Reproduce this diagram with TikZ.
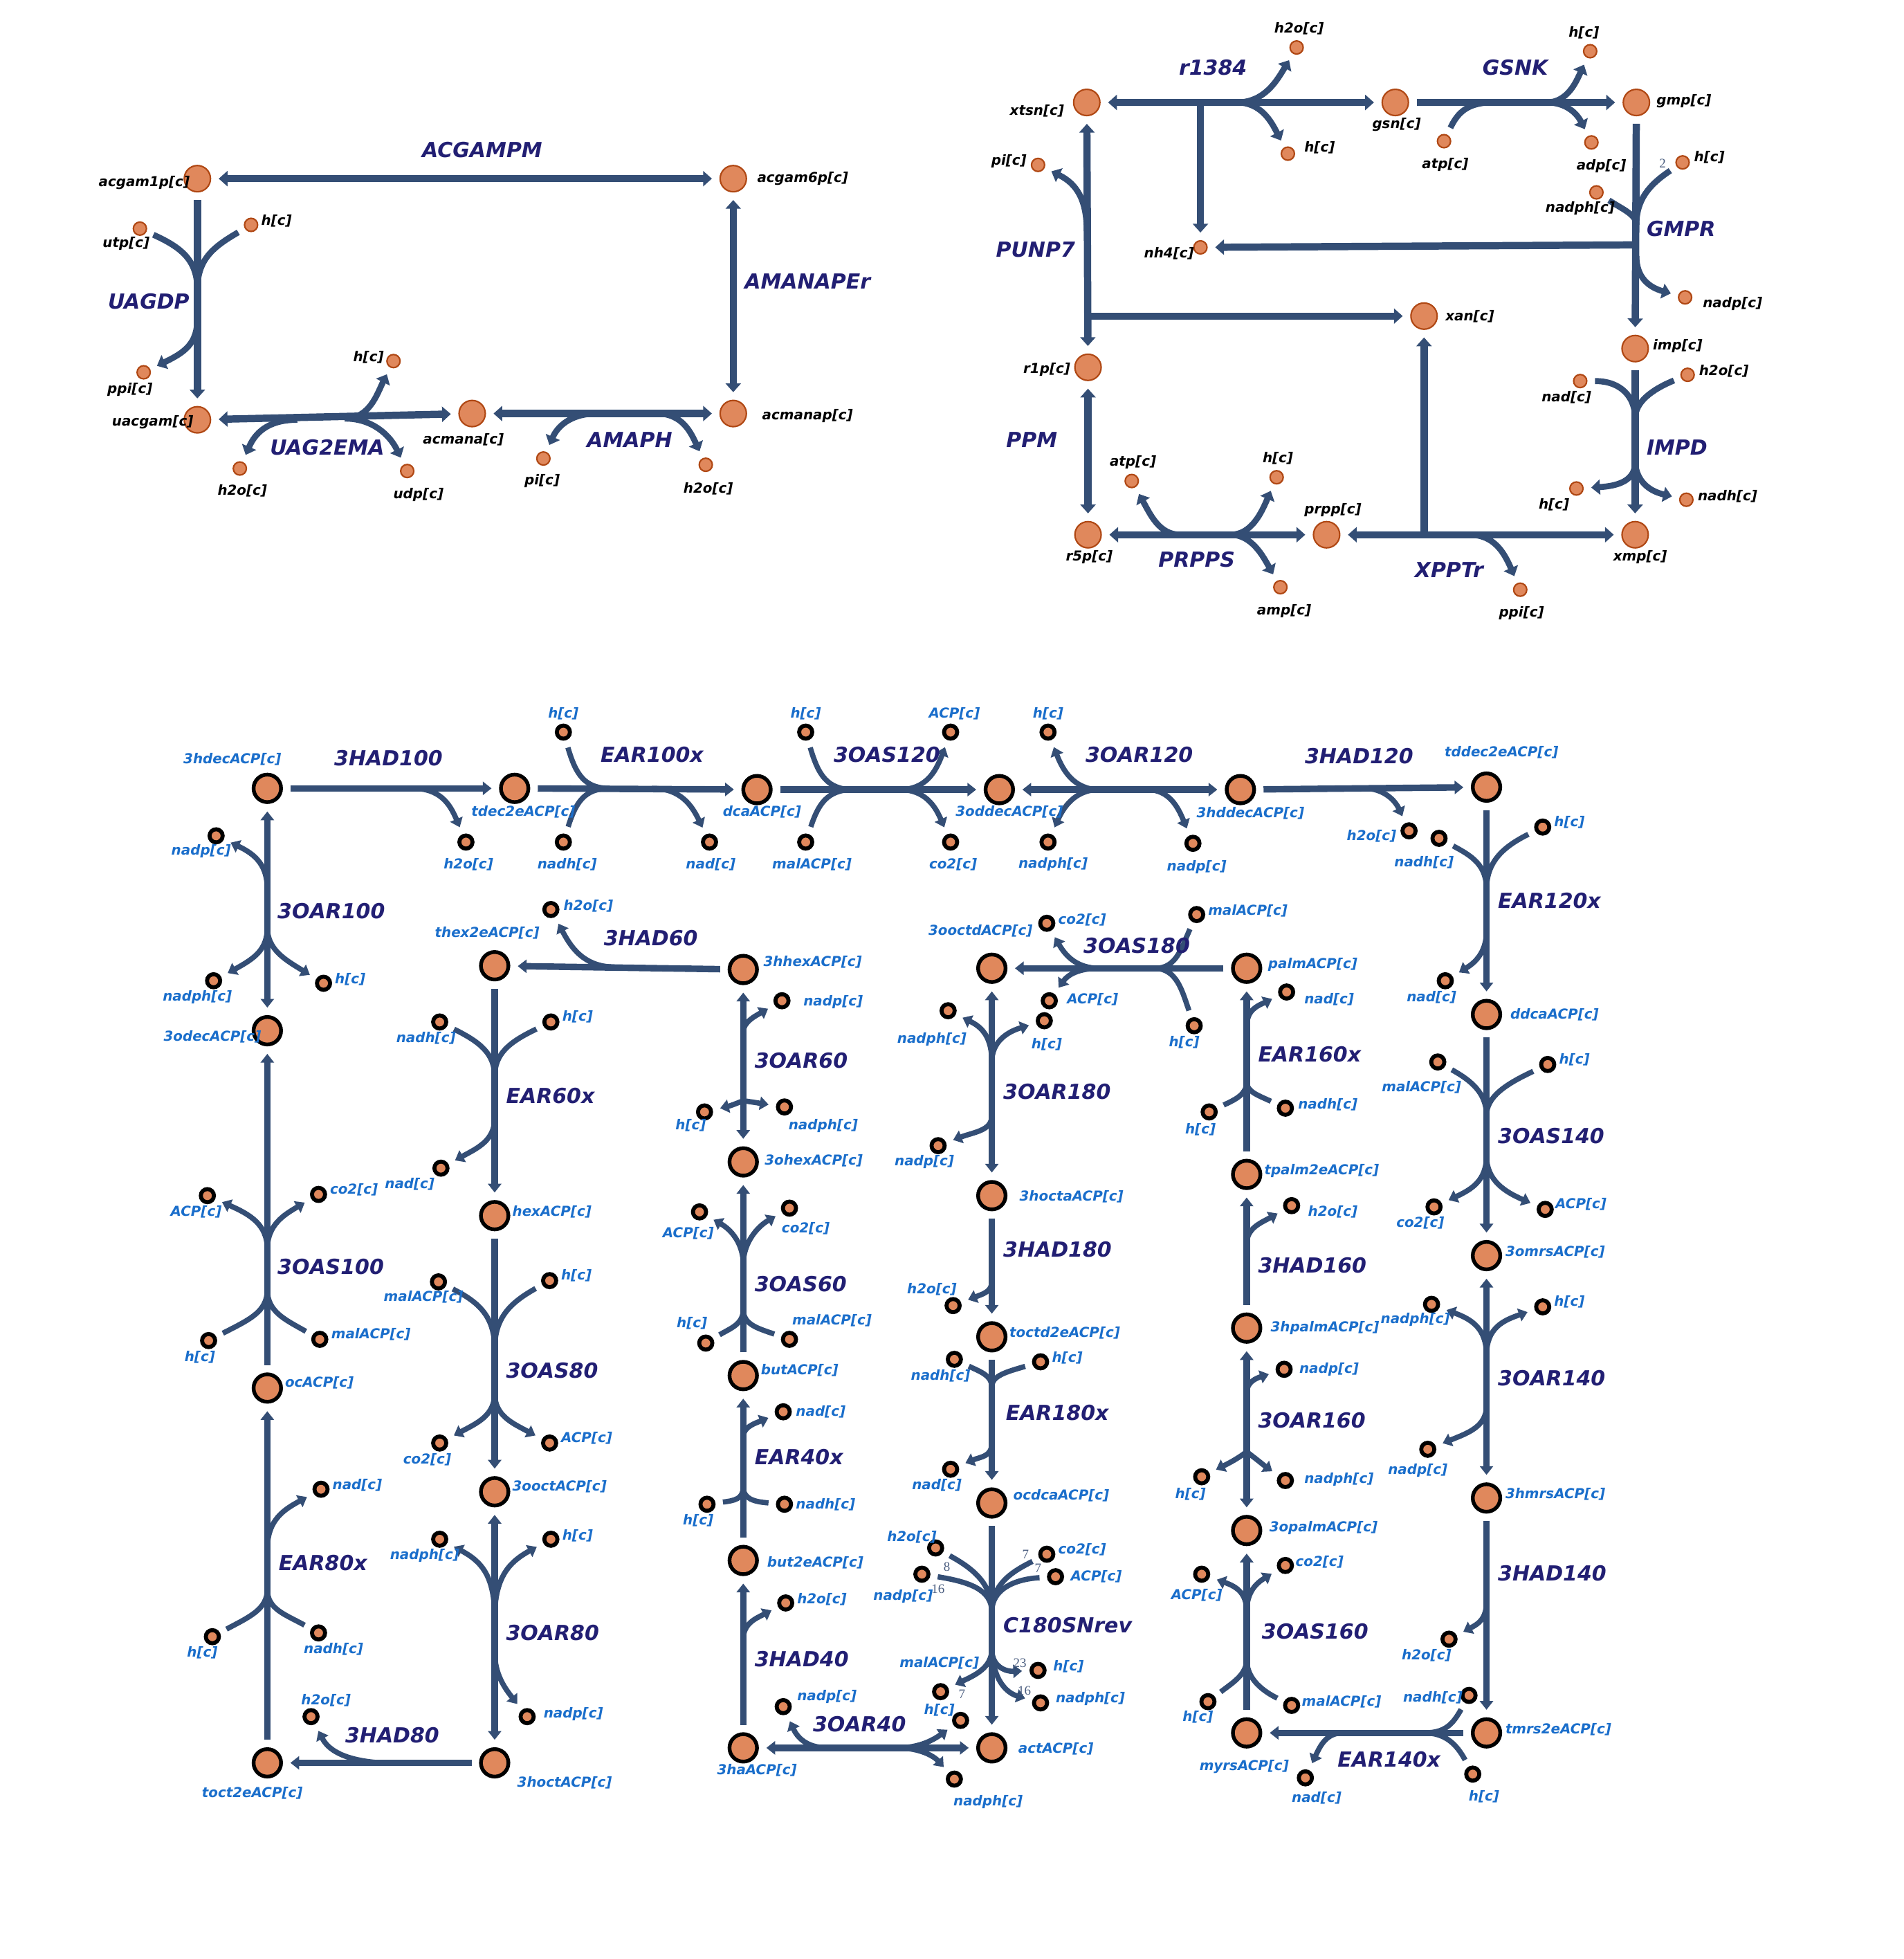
\documentclass[tikz,border=0pt]{standalone}
\usepackage{fontspec}
\setmainfont{DejaVu Sans}
\newfontfamily\numfont{Liberation Serif}
\usetikzlibrary{arrows.meta}
\definecolor{edge}{HTML}{344E75}
\definecolor{metfill}{HTML}{E0885C}
\definecolor{metbord}{HTML}{B04814}
\definecolor{rxn}{HTML}{221F73}
\definecolor{mlab}{HTML}{1A6ECB}
\definecolor{stoi}{HTML}{4B5E80}
\pgfdeclarelayer{bg}
\pgfsetlayers{bg,main}
\tikzset{
  tBig/.style={circle,draw=metbord,fill=metfill,line width=1.2pt,inner sep=0pt,minimum size=21pt},
  tSm/.style={circle,draw=metbord,fill=metfill,line width=1.2pt,inner sep=0pt,minimum size=10.5pt},
  bBig/.style={circle,draw=black,fill=metfill,line width=3pt,inner sep=0pt,minimum size=22pt},
  bSm/.style={circle,draw=black,fill=metfill,line width=3.2pt,inner sep=0pt,minimum size=10.5pt},
  tLab/.style={inner sep=0pt,font=\fontsize{11}{13}\selectfont\bfseries\itshape,text=black},
  bLab/.style={inner sep=0pt,font=\fontsize{11}{13}\selectfont\bfseries\itshape,text=mlab},
  rLab/.style={inner sep=0pt,font=\fontsize{16.6}{20}\selectfont\bfseries\itshape,text=rxn},
  sLab/.style={inner sep=0pt,font=\numfont\fontsize{10.5}{12}\selectfont,text=stoi},
  lnT/.style={draw=edge,line width=5.8pt},
  brT/.style={draw=edge,line width=4.8pt},
  lnB/.style={draw=edge,line width=5.2pt},
  brB/.style={draw=edge,line width=4.2pt},
  gS/.style={shorten <=6pt},
  gE/.style={shorten >=6pt},
  arT/.style={-{Triangle[length=7pt,width=12pt]}},
  arTT/.style={{Triangle[length=7pt,width=12pt]}-{Triangle[length=7pt,width=12pt]}},
  arB/.style={-{Triangle[length=7pt,width=10.5pt]}},
  arBB/.style={{Triangle[length=7pt,width=10.5pt]}-{Triangle[length=7pt,width=10.5pt]}},
}
\newcommand{\mkTB}[5]{\node[tBig] (#1) at (#2) {};\node[tLab,anchor=#4] (#1-l) at (#3) {#5};}
\newcommand{\mkTS}[5]{\node[tSm] (#1) at (#2) {};\node[tLab,anchor=#4] (#1-l) at (#3) {#5};}
\newcommand{\mkBB}[5]{\node[bBig] (#1) at (#2) {};\node[bLab,anchor=#4] (#1-l) at (#3) {#5};}
\newcommand{\mkBS}[5]{\node[bSm] (#1) at (#2) {};\node[bLab,anchor=#4] (#1-l) at (#3) {#5};}
\begin{document}
\begin{tikzpicture}[x=1pt,y=-1pt]
\useasboundingbox (0,0) rectangle (1524,1568);
\begin{pgfonlayer}{bg}
\fill[white] (0,0) rectangle (1524,1568);
\end{pgfonlayer}
% ================= TOP LEFT =================
\mkTB{acgam1p}{158,143}{152,146}{east}{acgam1p[c]}
\mkTB{acgam6p}{587,143}{606,143}{west}{acgam6p[c]}
\mkTB{uacgam}{158,336}{155,338}{east}{uacgam[c]}
\mkTB{acmana}{378,331}{371,352}{center}{acmana[c]}
\mkTB{acmanap}{587,331}{610,333}{west}{acmanap[c]}
\mkTS{utp}{112,183}{101,195}{center}{utp[c]}
\mkTS{h-uagdp}{201,180}{209,177}{west}{h[c]}
\mkTS{ppi-uagdp}{115,298}{104,312}{center}{ppi[c]}
\mkTS{h-uag}{315,289}{295,286}{center}{h[c]}
\mkTS{h2o-uag}{192,375}{194,393}{center}{h2o[c]}
\mkTS{udp}{326,377}{335,396}{center}{udp[c]}
\mkTS{pi-amaph}{435,367}{434,385}{center}{pi[c]}
\mkTS{h2o-amaph}{565,372}{567,391}{center}{h2o[c]}
% ================= TOP RIGHT =================
\mkTB{xtsn}{870,82}{852,89}{east}{xtsn[c]}
\mkTB{gsn}{1117,82}{1118,100}{center}{gsn[c]}
\mkTB{gmp}{1310,82}{1326,81}{west}{gmp[c]}
\mkTB{xan}{1140,253}{1157,253}{west}{xan[c]}
\mkTB{r1p}{871,294}{857,296}{east}{r1p[c]}
\mkTB{imp}{1309,279}{1323,277}{west}{imp[c]}
\mkTB{r5p}{871,428}{872,446}{center}{r5p[c]}
\mkTB{prpp}{1062,428}{1067,408}{center}{prpp[c]}
\mkTB{xmp}{1309,428}{1313,446}{center}{xmp[c]}
\mkTS{h2o-r1384}{1038,38}{1040,23}{center}{h2o[c]}
\mkTS{h-r1384}{1031,123}{1044,118}{west}{h[c]}
\mkTS{pi-punp7}{831,132}{822,129}{east}{pi[c]}
\mkTS{nh4}{961,198}{956,203}{east}{nh4[c]}
\mkTS{atp-gsnk}{1156,113}{1157,132}{center}{atp[c]}
\mkTS{h-gsnk}{1273,41}{1268,26}{center}{h[c]}
\mkTS{adp}{1274,114}{1282,133}{center}{adp[c]}
\mkTS{h-gmpr}{1347,130}{1356,126}{west}{h[c]}
\mkTS{nadph-gmpr}{1278,154}{1265,167}{center}{nadph[c]}
\mkTS{nadp-gmpr}{1349,238}{1363,243}{west}{nadp[c]}
\mkTS{nad-impd}{1265,305}{1254,318}{center}{nad[c]}
\mkTS{h2o-impd}{1351,300}{1360,297}{west}{h2o[c]}
\mkTS{h-impd}{1262,391}{1244,404}{center}{h[c]}
\mkTS{nadh-impd}{1350,400}{1359,397}{west}{nadh[c]}
\mkTS{atp-prpps}{906,385}{907,370}{center}{atp[c]}
\mkTS{h-prpps}{1022,382}{1023,367}{center}{h[c]}
\mkTS{amp}{1025,470}{1028,489}{center}{amp[c]}
\mkTS{ppi-xpptr}{1217,472}{1218,491}{center}{ppi[c]}
% ================= BOTTOM: main metabolites =================
\mkBB{hdec3}{214,631}{186,608}{center}{3hdecACP[c]}
\mkBB{tdec2e}{412,631}{419,650}{center}{tdec2eACP[c]}
\mkBB{dca}{606,632}{610,650}{center}{dcaACP[c]}
\mkBB{oddec3}{800,632}{808,650}{center}{3oddecACP[c]}
\mkBB{hddec3}{993,632}{1001,651}{center}{3hddecACP[c]}
\mkBB{tddec2e}{1190,630}{1202,602}{center}{tddec2eACP[c]}
\mkBB{odec3}{214,825}{170,830}{center}{3odecACP[c]}
\mkBB{oc}{214,1111}{228,1107}{west}{ocACP[c]}
\mkBB{toct2e}{214,1411}{202,1435}{center}{toct2eACP[c]}
\mkBB{thex2e}{396,773}{390,747}{center}{thex2eACP[c]}
\mkBB{hex}{396,973}{410,970}{west}{hexACP[c]}
\mkBB{ooct3}{396,1194}{410,1190}{west}{3ooctACP[c]}
\mkBB{hoct3}{396,1411}{452,1427}{center}{3hoctACP[c]}
\mkBB{hhex3}{595,776}{611,770}{west}{3hhexACP[c]}
\mkBB{ohex3}{595,930}{612,929}{west}{3ohexACP[c]}
\mkBB{but}{595,1101}{609,1097}{west}{butACP[c]}
\mkBB{but2e}{595,1249}{614,1251}{west}{but2eACP[c]}
\mkBB{ha3}{595,1399}{606,1417}{center}{3haACP[c]}
\mkBB{ooctd3}{794,775}{785,745}{center}{3ooctdACP[c]}
\mkBB{hocta3}{794,957}{816,958}{west}{3hoctaACP[c]}
\mkBB{toctd2e}{794,1070}{808,1067}{west}{toctd2eACP[c]}
\mkBB{ocdca}{794,1203}{811,1197}{west}{ocdcaACP[c]}
\mkBB{act}{794,1399}{815,1400}{west}{actACP[c]}
\mkBB{palm}{998,775}{1015,772}{west}{palmACP[c]}
\mkBB{tpalm2e}{998,940}{1012,937}{west}{tpalm2eACP[c]}
\mkBB{hpalm3}{998,1063}{1017,1063}{west}{3hpalmACP[c]}
\mkBB{opalm3}{998,1225}{1016,1223}{west}{3opalmACP[c]}
\mkBB{myrs}{998,1387}{996,1414}{center}{myrsACP[c]}
\mkBB{ddca}{1190,812}{1209,812}{west}{ddcaACP[c]}
\mkBB{omrs3}{1190,1005}{1205,1002}{west}{3omrsACP[c]}
\mkBB{hmrs3}{1190,1199}{1205,1196}{west}{3hmrsACP[c]}
\mkBB{tmrs2e}{1190,1387}{1205,1384}{west}{tmrs2eACP[c]}
% ================= BOTTOM: cofactors =================
\mkBS{h2o-had100}{373,674}{375,692}{center}{h2o[c]}
\mkBS{h-ear100}{451,586}{451,571}{center}{h[c]}
\mkBS{nadh-ear100}{451,674}{454,692}{center}{nadh[c]}
\mkBS{nad-ear100}{568,674}{569,692}{center}{nad[c]}
\mkBS{h-oas120}{645,586}{645,571}{center}{h[c]}
\mkBS{malACP-oas120}{645,674}{650,692}{center}{malACP[c]}
\mkBS{ACP-oas120}{761,586}{764,571}{center}{ACP[c]}
\mkBS{co2-oas120}{761,674}{763,692}{center}{co2[c]}
\mkBS{h-oar120}{839,586}{839,571}{center}{h[c]}
\mkBS{nadph-oar120}{839,674}{843,692}{center}{nadph[c]}
\mkBS{nadp-oar120}{955,675}{958,694}{center}{nadp[c]}
\mkBS{h2o-had120}{1128,665}{1098,669}{center}{h2o[c]}
\mkBS{nadh-ear120}{1152,671}{1140,690}{center}{nadh[c]}
\mkBS{h-ear120}{1235,662}{1244,658}{west}{h[c]}
\mkBS{nad-ear120}{1157,785}{1146,798}{center}{nad[c]}
\mkBS{malACP-oas140}{1151,850}{1138,870}{center}{malACP[c]}
\mkBS{h-oas140}{1239,852}{1248,848}{west}{h[c]}
\mkBS{co2-oas140}{1148,966}{1137,979}{center}{co2[c]}
\mkBS{ACP-oas140}{1237,968}{1245,964}{west}{ACP[c]}
\mkBS{nadph-oar140}{1146,1044}{1133,1056}{center}{nadph[c]}
\mkBS{h-oar140}{1235,1046}{1244,1042}{west}{h[c]}
\mkBS{nadp-oar140}{1143,1160}{1135,1177}{center}{nadp[c]}
\mkBS{h2o-had140}{1160,1312}{1142,1325}{center}{h2o[c]}
\mkBS{nadh-ear140}{1176,1357}{1147,1359}{center}{nadh[c]}
\mkBS{h-ear140}{1179,1420}{1188,1438}{center}{h[c]}
\mkBS{nad-ear140}{1045,1423}{1054,1439}{center}{nad[c]}
\mkBS{ACP-oas160}{962,1260}{958,1277}{center}{ACP[c]}
\mkBS{co2-oas160}{1029,1253}{1037,1250}{west}{co2[c]}
\mkBS{h-oas160}{967,1362}{959,1374}{center}{h[c]}
\mkBS{malACP-oas160}{1034,1365}{1042,1362}{west}{malACP[c]}
\mkBS{nadp-oar160}{1028,1096}{1040,1096}{west}{nadp[c]}
\mkBS{h-oar160}{962,1182}{953,1196}{center}{h[c]}
\mkBS{nadph-oar160}{1029,1185}{1044,1184}{west}{nadph[c]}
\mkBS{h2o-had160}{1034,965}{1047,970}{west}{h2o[c]}
\mkBS{nad-ear160}{1030,794}{1044,800}{west}{nad[c]}
\mkBS{h-ear160}{968,890}{961,904}{center}{h[c]}
\mkBS{nadh-ear160}{1029,887}{1039,884}{west}{nadh[c]}
\mkBS{malACP-oas180}{958,732}{967,729}{west}{malACP[c]}
\mkBS{h-oas180}{956,821}{948,834}{center}{h[c]}
\mkBS{co2-oas180}{838,739}{847,736}{west}{co2[c]}
\mkBS{ACP-oas180}{840,801}{854,800}{west}{ACP[c]}
\mkBS{nadph-oar180}{759,809}{746,832}{center}{nadph[c]}
\mkBS{h-oar180}{836,817}{838,836}{center}{h[c]}
\mkBS{nadp-oar180}{751,917}{740,930}{center}{nadp[c]}
\mkBS{h2o-had180}{763,1045}{746,1032}{center}{h2o[c]}
\mkBS{nadh-ear180}{764,1088}{753,1101}{center}{nadh[c]}
\mkBS{h-ear180}{833,1090}{842,1087}{west}{h[c]}
\mkBS{nad-ear180}{761,1176}{750,1189}{center}{nad[c]}
\mkBS{h2o-c180}{749,1239}{730,1230}{center}{h2o[c]}
\mkBS{nadp-c180}{738,1260}{723,1278}{center}{nadp[c]}
\mkBS{co2-c180}{838,1244}{847,1240}{west}{co2[c]}
\mkBS{ACP-c180}{845,1262}{857,1262}{west}{ACP[c]}
\mkBS{h-c180}{831,1337}{843,1334}{west}{h[c]}
\mkBS{nadph-c180}{833,1363}{845,1360}{west}{nadph[c]}
\mkBS{malACP-c180}{753,1354}{752,1331}{center}{malACP[c]}
\mkBS{nadp-oar40}{627,1366}{662,1358}{center}{nadp[c]}
\mkBS{h-oar40}{769,1377}{752,1369}{center}{h[c]}
\mkBS{nadph-oar40}{764,1424}{791,1442}{center}{nadph[c]}
\mkBS{h2o-had40}{629,1283}{638,1280}{west}{h2o[c]}
\mkBS{nad-ear40}{627,1130}{637,1130}{west}{nad[c]}
\mkBS{h-ear40}{566,1204}{559,1217}{center}{h[c]}
\mkBS{nadh-ear40}{628,1204}{637,1204}{west}{nadh[c]}
\mkBS{ACP-oas60}{560,970}{551,987}{center}{ACP[c]}
\mkBS{co2-oas60}{632,967}{645,983}{center}{co2[c]}
\mkBS{h-oas60}{565,1075}{554,1059}{center}{h[c]}
\mkBS{malACP-oas60}{632,1072}{666,1057}{center}{malACP[c]}
\mkBS{nadp-oar60}{626,801}{643,802}{west}{nadp[c]}
\mkBS{h-oar60}{564,890}{553,901}{center}{h[c]}
\mkBS{nadph-oar60}{628,886}{659,901}{center}{nadph[c]}
\mkBS{h2o-had60}{441,728}{451,725}{west}{h2o[c]}
\mkBS{nadh-ear60}{352,818}{341,831}{center}{nadh[c]}
\mkBS{h-ear60}{441,818}{450,814}{west}{h[c]}
\mkBS{nad-ear60}{353,935}{328,948}{center}{nad[c]}
\mkBS{malACP-oas80}{351,1026}{339,1038}{center}{malACP[c]}
\mkBS{h-oas80}{440,1025}{449,1021}{west}{h[c]}
\mkBS{co2-oas80}{352,1155}{342,1168}{center}{co2[c]}
\mkBS{ACP-oas80}{440,1155}{449,1151}{west}{ACP[c]}
\mkBS{nadph-oar80}{352,1232}{340,1245}{center}{nadph[c]}
\mkBS{h-oar80}{441,1232}{450,1229}{west}{h[c]}
\mkBS{nadp-oar80}{422,1374}{435,1372}{west}{nadp[c]}
\mkBS{h2o-had80}{249,1374}{261,1361}{center}{h2o[c]}
\mkBS{nad-ear80}{257,1192}{266,1189}{west}{nad[c]}
\mkBS{h-ear80}{170,1310}{162,1323}{center}{h[c]}
\mkBS{nadh-ear80}{255,1307}{267,1320}{center}{nadh[c]}
\mkBS{ACP-oas100}{166,957}{157,970}{center}{ACP[c]}
\mkBS{co2-oas100}{255,956}{264,952}{west}{co2[c]}
\mkBS{h-oas100}{167,1073}{160,1086}{center}{h[c]}
\mkBS{malACP-oas100}{256,1072}{265,1068}{west}{malACP[c]}
\mkBS{nadp-oar100}{173,669}{161,681}{center}{nadp[c]}
\mkBS{nadph-oar100}{171,785}{158,798}{center}{nadph[c]}
\mkBS{h-oar100}{259,787}{268,784}{west}{h[c]}
% ================= stoichiometry =================
\node[sLab] (s-gmpr) at (1331,131) {2};
\node[sLab] (s-c1) at (758,1254) {8};
\node[sLab] (s-c2) at (751,1272) {16};
\node[sLab] (s-c3) at (821,1244) {7};
\node[sLab] (s-c4) at (831,1255) {7};
\node[sLab] (s-c5) at (816.5,1331) {23};
\node[sLab] (s-c6) at (820,1353) {16};
\node[sLab] (s-c7) at (770,1356) {7};
% ================= reaction labels =================
\node[rLab] (rx-ACGAMPM) at (386,120) {ACGAMPM};
\node[rLab] (rx-UAGDP) at (119,241) {UAGDP};
\node[rLab,anchor=west] (rx-AMANAPEr) at (596,225) {AMANAPEr};
\node[rLab] (rx-UAG2EMA) at (262,358) {UAG2EMA};
\node[rLab] (rx-AMAPH) at (504,352) {AMAPH};
\node[rLab] (rx-r1384) at (971,54) {r1384};
\node[rLab] (rx-GSNK) at (1213,54) {GSNK};
\node[rLab] (rx-PUNP7) at (829,200) {PUNP7};
\node[rLab,anchor=west] (rx-GMPR) at (1318,183) {GMPR};
\node[rLab] (rx-PPM) at (826,352) {PPM};
\node[rLab,anchor=west] (rx-IMPD) at (1318,358) {IMPD};
\node[rLab] (rx-PRPPS) at (958,448) {PRPPS};
\node[rLab] (rx-XPPTr) at (1160,456) {XPPTr};
\node[rLab] (rx-3HAD100) at (311,607) {3HAD100};
\node[rLab] (rx-EAR100x) at (522,604) {EAR100x};
\node[rLab] (rx-3OAS120) at (710,604) {3OAS120};
\node[rLab] (rx-3OAR120) at (912,604) {3OAR120};
\node[rLab] (rx-3HAD120) at (1088,605) {3HAD120};
\node[rLab] (rx-3HAD60) at (521,751) {3HAD60};
\node[rLab] (rx-3OAS180) at (910,757) {3OAS180};
\node[rLab] (rx-3OAR40) at (688,1380) {3OAR40};
\node[rLab] (rx-3HAD80) at (314,1389) {3HAD80};
\node[rLab] (rx-EAR140x) at (1112,1408) {EAR140x};
\node[rLab,anchor=west] (rx-3OAR100) at (222,729) {3OAR100};
\node[rLab,anchor=west] (rx-3OAS100) at (222,1014) {3OAS100};
\node[rLab,anchor=west] (rx-EAR80x) at (223,1251) {EAR80x};
\node[rLab,anchor=west] (rx-EAR60x) at (405,877) {EAR60x};
\node[rLab,anchor=west] (rx-3OAS80) at (405,1097) {3OAS80};
\node[rLab,anchor=west] (rx-3OAR80) at (405,1307) {3OAR80};
\node[rLab,anchor=west] (rx-3OAR60) at (604,849) {3OAR60};
\node[rLab,anchor=west] (rx-3OAS60) at (604,1028) {3OAS60};
\node[rLab,anchor=west] (rx-EAR40x) at (604,1166) {EAR40x};
\node[rLab,anchor=west] (rx-3HAD40) at (604,1328) {3HAD40};
\node[rLab,anchor=west] (rx-3OAR180) at (803,874) {3OAR180};
\node[rLab,anchor=west] (rx-3HAD180) at (803,1000) {3HAD180};
\node[rLab,anchor=west] (rx-EAR180x) at (805,1131) {EAR180x};
\node[rLab,anchor=west] (rx-C180SNrev) at (803,1301) {C180SNrev};
\node[rLab,anchor=west] (rx-EAR160x) at (1007,844) {EAR160x};
\node[rLab,anchor=west] (rx-3HAD160) at (1007,1013) {3HAD160};
\node[rLab,anchor=west] (rx-3OAR160) at (1007,1137) {3OAR160};
\node[rLab,anchor=west] (rx-3OAS160) at (1010,1306) {3OAS160};
\node[rLab,anchor=west] (rx-EAR120x) at (1199,721) {EAR120x};
\node[rLab,anchor=west] (rx-3OAS140) at (1199,909) {3OAS140};
\node[rLab,anchor=west] (rx-3OAR140) at (1199,1103) {3OAR140};
\node[rLab,anchor=west] (rx-3HAD140) at (1199,1259) {3HAD140};
% ================= join coordinates =================
\coordinate (uagdp-in) at (158,232); \coordinate (uagdp-out) at (158,255);
\coordinate (uag-in) at (238,336); \coordinate (uag-out) at (276,335);
\coordinate (amaph-l) at (478,331); \coordinate (amaph-r) at (526,331);
\coordinate (r1384-n) at (961,82); \coordinate (r1384-o) at (990,82);
\coordinate (gsnk-in) at (1195,82); \coordinate (gsnk-out) at (1238,82);
\coordinate (gmpr-in) at (1310,180); \coordinate (gmpr-nh) at (1310,196); \coordinate (gmpr-out) at (1310,205);
\coordinate (punp7-pi) at (870,185); \coordinate (punp7-x) at (870,253);
\coordinate (prpps-in) at (945,428); \coordinate (prpps-out) at (985,428);
\coordinate (xpptr-v) at (1140,428); \coordinate (xpptr-o) at (1176,428);
\coordinate (impd-in) at (1309,335); \coordinate (impd-out) at (1309,370);
\coordinate (had100-o) at (330,631);
\coordinate (ear100-in) at (488,631); \coordinate (ear100-out) at (522,631);
\coordinate (oas120-in) at (683,632); \coordinate (oas120-out) at (720,632);
\coordinate (oar120-l) at (880,632); \coordinate (oar120-r) at (918,632);
\coordinate (had120-o) at (1092,631);
\coordinate (ear120-in) at (1190,712); \coordinate (ear120-out) at (1190,745);
\coordinate (oas140-in) at (1190,893); \coordinate (oas140-out) at (1190,925);
\coordinate (oar140-t) at (1190,1085); \coordinate (oar140-b) at (1190,1125);
\coordinate (had140-o) at (1190,1282);
\coordinate (ear140-in) at (1140,1387); \coordinate (ear140-out) at (1075,1387);
\coordinate (oas160-in) at (998,1328); \coordinate (oas160-out) at (998,1290);
\coordinate (oar160-t) at (998,1115); \coordinate (oar160-b) at (998,1162);
\coordinate (had160-o) at (998,996);
\coordinate (ear160-in) at (998,866); \coordinate (ear160-out) at (998,822);
\coordinate (oas180-in) at (925,775); \coordinate (oas180-out) at (880,775);
\coordinate (oar180-t) at (794,850); \coordinate (oar180-b) at (794,893);
\coordinate (had180-o) at (794,1026);
\coordinate (ear180-in) at (794,1110); \coordinate (ear180-out) at (794,1155);
\coordinate (c180-in) at (794,1290); \coordinate (c180-out) at (794,1320);
\coordinate (oar40-l) at (663,1399); \coordinate (oar40-r) at (718,1399);
\coordinate (had40-o) at (595,1312);
\coordinate (ear40-in) at (595,1190); \coordinate (ear40-out) at (595,1150);
\coordinate (oas60-in) at (595,1048); \coordinate (oas60-out) at (595,1012);
\coordinate (oar60-t) at (595,826); \coordinate (oar60-b) at (595,881);
\coordinate (had60-o) at (492,774);
\coordinate (ear60-in) at (396,862); \coordinate (ear60-out) at (396,895);
\coordinate (oas80-in) at (396,1080); \coordinate (oas80-out) at (396,1115);
\coordinate (oar80-t) at (396,1295); \coordinate (oar80-b) at (396,1322);
\coordinate (had80-o) at (305,1411);
\coordinate (ear80-in) at (214,1272); \coordinate (ear80-out) at (214,1240);
\coordinate (oas100-in) at (214,1032); \coordinate (oas100-out) at (214,1000);
\coordinate (oar100-t) at (214,712); \coordinate (oar100-b) at (214,742);
% ================= edges =================
\begin{pgfonlayer}{bg}
% --- top left
\draw[lnT,arTT,gS,gE] (acgam1p) -- (acgam6p);
\draw[lnT,arT,gS,gE] (acgam1p) -- (uacgam);
\draw[brT,gS] (utp) .. controls (145,198) and (158,208) .. (uagdp-in);
\draw[brT,gS] (h-uagdp) .. controls (170,198) and (158,208) .. (uagdp-in);
\draw[brT,arT,gE] (uagdp-out) .. controls (158,275) and (148,282) .. (ppi-uagdp);
\draw[lnT,arTT,gS,gE] (uacgam) -- (acmana);
\draw[brT,arT,gE] (uag-in) .. controls (214,336) and (204,347) .. (h2o-uag);
\draw[brT,arT,gE] (uag-out) .. controls (296,335) and (302,315) .. (h-uag);
\draw[brT,arT,gE] (uag-out) .. controls (298,335) and (312,348) .. (udp);
\draw[lnT,arTT,gS,gE] (acmanap) -- (acmana);
\draw[brT,arT,gE] (amaph-l) .. controls (456,331) and (446,342) .. (pi-amaph);
\draw[brT,arT,gE] (amaph-r) .. controls (546,331) and (553,346) .. (h2o-amaph);
\draw[lnT,arTT,gS,gE] (acmanap) -- (acgam6p);
% --- top right
\draw[lnT,arTT,gS,gE] (xtsn) -- (gsn);
\draw[lnT,arT,gE] (r1384-n) -- (nh4);
\draw[brT,arT,gE] (r1384-o) .. controls (1012,82) and (1022,65) .. (h2o-r1384);
\draw[brT,arT,gE] (r1384-o) .. controls (1010,82) and (1018,98) .. (h-r1384);
\draw[lnT,arT,gS,gE] (gsn) -- (gmp);
\draw[brT,gS] (atp-gsnk) .. controls (1167,90) and (1175,82) .. (gsnk-in);
\draw[brT,arT,gE] (gsnk-out) .. controls (1255,82) and (1262,65) .. (h-gsnk);
\draw[brT,arT,gE] (gsnk-out) .. controls (1255,82) and (1263,92) .. (adp);
\draw[lnT,arT,gS,gE] (gmp) -- (imp);
\draw[lnT,arT,gE] (gmpr-nh) -- (nh4);
\draw[brT,gS] (h-gmpr) .. controls (1320,148) and (1310,160) .. (gmpr-in);
\draw[brT,gS] (nadph-gmpr) .. controls (1300,168) and (1310,172) .. (gmpr-in);
\draw[brT,arT,gE] (gmpr-out) .. controls (1310,222) and (1320,230) .. (nadp-gmpr);
\draw[lnT,arTT,gS,gE] (r1p) -- (xtsn);
\draw[brT,arT,gE] (punp7-pi) .. controls (870,160) and (862,147) .. (pi-punp7);
\draw[lnT,arT,gE] (punp7-x) -- (xan);
\draw[lnT,arTT,gS,gE] (r1p) -- (r5p);
\draw[lnT,arTT,gS,gE] (r5p) -- (prpp);
\draw[brT,arT,gE] (prpps-in) .. controls (928,428) and (921,412) .. (atp-prpps);
\draw[brT,arT,gE] (prpps-out) .. controls (1002,428) and (1010,410) .. (h-prpps);
\draw[brT,arT,gE] (prpps-out) .. controls (1002,428) and (1011,445) .. (amp);
\draw[lnT,arTT,gS,gE] (prpp) -- (xmp);
\draw[lnT,arT,gE] (xpptr-v) -- (xan);
\draw[brT,arT,gE] (xpptr-o) .. controls (1196,428) and (1204,442) .. (ppi-xpptr);
\draw[lnT,arT,gS,gE] (imp) -- (xmp);
\draw[brT,gS] (nad-impd) .. controls (1298,305) and (1309,318) .. (impd-in);
\draw[brT,gS] (h2o-impd) .. controls (1322,312) and (1309,322) .. (impd-in);
\draw[brT,arT,gE] (impd-out) .. controls (1309,385) and (1295,389) .. (h-impd);
\draw[brT,arT,gE] (impd-out) .. controls (1310,385) and (1320,393) .. (nadh-impd);
% --- bottom row 1
\draw[lnB,arB,gS,gE] (hdec3) -- (tdec2e);
\draw[brB,arB,gE] (had100-o) .. controls (352,631) and (360,643) .. (h2o-had100);
\draw[lnB,arB,gS,gE] (tdec2e) -- (dca);
\draw[brB,gS] (h-ear100) .. controls (461,620) and (468,631) .. (ear100-in);
\draw[brB,gS] (nadh-ear100) .. controls (461,642) and (468,631) .. (ear100-in);
\draw[brB,arB,gE] (ear100-out) .. controls (545,631) and (554,645) .. (nad-ear100);
\draw[lnB,arB,gS,gE] (dca) -- (oddec3);
\draw[brB,gS] (h-oas120) .. controls (655,620) and (662,632) .. (oas120-in);
\draw[brB,gS] (malACP-oas120) .. controls (655,644) and (662,632) .. (oas120-in);
\draw[brB,arB,gE] (oas120-out) .. controls (741,632) and (749,618) .. (ACP-oas120);
\draw[brB,arB,gE] (oas120-out) .. controls (741,632) and (749,646) .. (co2-oas120);
\draw[lnB,arBB,gS,gE] (oddec3) -- (hddec3);
\draw[brB,arB,gE] (oar120-l) .. controls (860,632) and (851,617) .. (h-oar120);
\draw[brB,arB,gE] (oar120-l) .. controls (860,632) and (851,647) .. (nadph-oar120);
\draw[brB,arB,gE] (oar120-r) .. controls (936,632) and (943,646) .. (nadp-oar120);
\draw[lnB,arB,gS,gE] (hddec3) -- (tddec2e);
\draw[brB,arB,gE] (had120-o) .. controls (1108,631) and (1117,641) .. (h2o-had120);
% --- column 6
\draw[lnB,arB,gS,gE] (tddec2e) -- (ddca);
\draw[brB,gS] (nadh-ear120) .. controls (1178,685) and (1190,692) .. (ear120-in);
\draw[brB,gS] (h-ear120) .. controls (1203,678) and (1190,690) .. (ear120-in);
\draw[brB,arB,gE] (ear120-out) .. controls (1190,763) and (1180,771) .. (nad-ear120);
\draw[lnB,arB,gS,gE] (ddca) -- (omrs3);
\draw[brB,gS] (malACP-oas140) .. controls (1178,865) and (1190,875) .. (oas140-in);
\draw[brB,gS] (h-oas140) .. controls (1205,868) and (1190,878) .. (oas140-in);
\draw[brB,arB,gE] (oas140-out) .. controls (1190,945) and (1178,952) .. (co2-oas140);
\draw[brB,arB,gE] (oas140-out) .. controls (1190,945) and (1205,954) .. (ACP-oas140);
\draw[lnB,arBB,gS,gE] (omrs3) -- (hmrs3);
\draw[brB,arB,gE] (oar140-t) .. controls (1190,1063) and (1178,1056) .. (nadph-oar140);
\draw[brB,arB,gE] (oar140-t) .. controls (1190,1063) and (1203,1057) .. (h-oar140);
\draw[brB,arB,gE] (oar140-b) .. controls (1190,1142) and (1175,1147) .. (nadp-oar140);
\draw[lnB,arB,gS,gE] (hmrs3) -- (tmrs2e);
\draw[brB,arB,gE] (had140-o) .. controls (1190,1296) and (1183,1300) .. (h2o-had140);
\draw[lnB,arB,gS,gE] (tmrs2e) -- (myrs);
\draw[brB,gS] (nadh-ear140) .. controls (1163,1380) and (1157,1387) .. (ear140-in);
\draw[brB,gS] (h-ear140) .. controls (1166,1396) and (1157,1387) .. (ear140-in);
\draw[brB,arB,gE] (ear140-out) .. controls (1062,1387) and (1057,1397) .. (nad-ear140);
% --- column 5
\draw[lnB,arB,gS,gE] (myrs) -- (opalm3);
\draw[brB,gS] (h-oas160) .. controls (988,1346) and (998,1340) .. (oas160-in);
\draw[brB,gS] (malACP-oas160) .. controls (1008,1352) and (998,1342) .. (oas160-in);
\draw[brB,arB,gE] (oas160-out) .. controls (998,1274) and (1006,1267) .. (co2-oas160);
\draw[brB,arB,gE] (oas160-out) .. controls (998,1275) and (990,1270) .. (ACP-oas160);
\draw[lnB,arBB,gS,gE] (opalm3) -- (hpalm3);
\draw[brB,arB,gE] (oar160-t) .. controls (998,1106) and (1006,1103) .. (nadp-oar160);
\draw[brB,arB,gE] (oar160-b) .. controls (990,1168) and (984,1171) .. (h-oar160);
\draw[brB,arB,gE] (oar160-b) .. controls (1006,1168) and (1012,1173) .. (nadph-oar160);
\draw[lnB,arB,gS,gE] (hpalm3) -- (tpalm2e);
\draw[brB,arB,gE] (had160-o) .. controls (998,983) and (1009,979) .. (h2o-had160);
\draw[lnB,arB,gS,gE] (tpalm2e) -- (palm);
\draw[brB,gS] (h-ear160) .. controls (989,880) and (998,876) .. (ear160-in);
\draw[brB,gS] (nadh-ear160) .. controls (1008,877) and (998,874) .. (ear160-in);
\draw[brB,arB,gE] (ear160-out) .. controls (998,808) and (1007,805) .. (nad-ear160);
\draw[lnB,arB,gS,gE] (palm) -- (ooctd3);
\draw[brB,gS] (malACP-oas180) .. controls (946,758) and (942,775) .. (oas180-in);
\draw[brB,gS] (h-oas180) .. controls (946,792) and (942,776) .. (oas180-in);
\draw[brB,arB,gE] (oas180-out) .. controls (862,775) and (853,765) .. (co2-oas180);
\draw[brB,arB,gE] (oas180-out) .. controls (864,775) and (855,780) .. (ACP-oas180);
% --- column 4
\draw[lnB,arBB,gS,gE] (ooctd3) -- (hocta3);
\draw[brB,arB,gE] (oar180-t) .. controls (794,830) and (786,822) .. (nadph-oar180);
\draw[brB,arB,gE] (oar180-t) .. controls (794,834) and (806,826) .. (h-oar180);
\draw[brB,arB,gE] (oar180-b) .. controls (794,905) and (780,906) .. (nadp-oar180);
\draw[lnB,arB,gS,gE] (hocta3) -- (toctd2e);
\draw[brB,arB,gE] (had180-o) .. controls (794,1034) and (786,1036) .. (h2o-had180);
\draw[lnB,arB,gS,gE] (toctd2e) -- (ocdca);
\draw[brB,gS] (nadh-ear180) .. controls (785,1098) and (794,1101) .. (ear180-in);
\draw[brB,gS] (h-ear180) .. controls (806,1098) and (794,1101) .. (ear180-in);
\draw[brB,arB,gE] (ear180-out) .. controls (794,1166) and (785,1166) .. (nad-ear180);
\draw[lnB,arB,gS,gE] (ocdca) -- (act);
\draw[brB,gS] (h2o-c180) .. controls (780,1256) and (794,1268) .. (c180-in);
\draw[brB,gS] (nadp-c180) .. controls (775,1266) and (794,1272) .. (c180-in);
\draw[brB,gS] (co2-c180) .. controls (810,1258) and (794,1268) .. (c180-in);
\draw[brB,gS] (ACP-c180) .. controls (812,1264) and (794,1272) .. (c180-in);
\draw[brB,arB,gE] (c180-out) .. controls (794,1334) and (805,1338) .. (h-c180);
\draw[brB,arB,gE] (c180-out) .. controls (795,1345) and (806,1355) .. (nadph-c180);
\draw[brB,arB,gE] (c180-out) .. controls (794,1335) and (780,1341) .. (malACP-c180);
\draw[lnB,arBB,gS,gE] (ha3) -- (act);
\draw[brB,arB,gE] (oar40-l) .. controls (645,1399) and (638,1390) .. (nadp-oar40);
\draw[brB,arB,gE] (oar40-r) .. controls (737,1399) and (748,1392) .. (h-oar40);
\draw[brB,arB,gE] (oar40-r) .. controls (737,1399) and (748,1406) .. (nadph-oar40);
% --- column 3
\draw[lnB,arB,gS,gE] (ha3) -- (but2e);
\draw[brB,arB,gE] (had40-o) .. controls (595,1299) and (606,1295) .. (h2o-had40);
\draw[lnB,arB,gS,gE] (but2e) -- (but);
\draw[brB,gS] (h-ear40) .. controls (588,1201) and (595,1200) .. (ear40-in);
\draw[brB,gS] (nadh-ear40) .. controls (604,1202) and (595,1200) .. (ear40-in);
\draw[brB,arB,gE] (ear40-out) .. controls (595,1142) and (605,1139) .. (nad-ear40);
\draw[lnB,arB,gS,gE] (but) -- (ohex3);
\draw[brB,gS] (h-oas60) .. controls (585,1063) and (595,1060) .. (oas60-in);
\draw[brB,gS] (malACP-oas60) .. controls (606,1063) and (595,1060) .. (oas60-in);
\draw[brB,arB,gE] (oas60-out) .. controls (595,995) and (585,984) .. (ACP-oas60);
\draw[brB,arB,gE] (oas60-out) .. controls (595,995) and (606,982) .. (co2-oas60);
\draw[lnB,arBB,gS,gE] (ohex3) -- (hhex3);
\draw[brB,arB,gE] (oar60-t) .. controls (595,818) and (605,813) .. (nadp-oar60);
\draw[brB,arB,gE] (oar60-b) .. controls (590,883) and (585,885) .. (h-oar60);
\draw[brB,arB,gE] (oar60-b) .. controls (602,882) and (608,883) .. (nadph-oar60);
\draw[lnB,arB,gS,gE] (hhex3) -- (thex2e);
\draw[brB,arB,gE] (had60-o) .. controls (466,774) and (456,756) .. (h2o-had60);
% --- column 2
\draw[lnB,arB,gS,gE] (thex2e) -- (hex);
\draw[brB,gS] (nadh-ear60) .. controls (384,834) and (396,843) .. (ear60-in);
\draw[brB,gS] (h-ear60) .. controls (408,834) and (396,843) .. (ear60-in);
\draw[brB,arB,gE] (ear60-out) .. controls (396,913) and (382,919) .. (nad-ear60);
\draw[lnB,arB,gS,gE] (hex) -- (ooct3);
\draw[brB,gS] (malACP-oas80) .. controls (385,1043) and (396,1055) .. (oas80-in);
\draw[brB,gS] (h-oas80) .. controls (408,1043) and (396,1055) .. (oas80-in);
\draw[brB,arB,gE] (oas80-out) .. controls (396,1133) and (382,1139) .. (co2-oas80);
\draw[brB,arB,gE] (oas80-out) .. controls (396,1133) and (410,1139) .. (ACP-oas80);
\draw[lnB,arBB,gS,gE] (ooct3) -- (hoct3);
\draw[brB,arB,gE] (oar80-t) .. controls (396,1262) and (386,1250) .. (nadph-oar80);
\draw[brB,arB,gE] (oar80-t) .. controls (396,1262) and (408,1250) .. (h-oar80);
\draw[brB,arB,gE] (oar80-b) .. controls (396,1340) and (404,1351) .. (nadp-oar80);
\draw[lnB,arB,gS,gE] (hoct3) -- (toct2e);
\draw[brB,arB,gE] (had80-o) .. controls (276,1409) and (263,1401) .. (h2o-had80);
% --- column 1
\draw[lnB,arB,gS,gE] (toct2e) -- (oc);
\draw[brB,gS] (h-ear80) .. controls (200,1294) and (214,1288) .. (ear80-in);
\draw[brB,gS] (nadh-ear80) .. controls (228,1292) and (214,1288) .. (ear80-in);
\draw[brB,arB,gE] (ear80-out) .. controls (214,1216) and (228,1208) .. (nad-ear80);
\draw[lnB,arB,gS,gE] (oc) -- (odec3);
\draw[brB,gS] (h-oas100) .. controls (200,1056) and (214,1050) .. (oas100-in);
\draw[brB,gS] (malACP-oas100) .. controls (228,1056) and (214,1050) .. (oas100-in);
\draw[brB,arB,gE] (oas100-out) .. controls (214,980) and (200,972) .. (ACP-oas100);
\draw[brB,arB,gE] (oas100-out) .. controls (214,980) and (228,972) .. (co2-oas100);
\draw[lnB,arBB,gS,gE] (hdec3) -- (odec3);
\draw[brB,arB,gE] (oar100-t) .. controls (214,693) and (205,684) .. (nadp-oar100);
\draw[brB,arB,gE] (oar100-b) .. controls (214,760) and (204,767) .. (nadph-oar100);
\draw[brB,arB,gE] (oar100-b) .. controls (214,760) and (228,768) .. (h-oar100);
\end{pgfonlayer}
\end{tikzpicture}
\end{document}
